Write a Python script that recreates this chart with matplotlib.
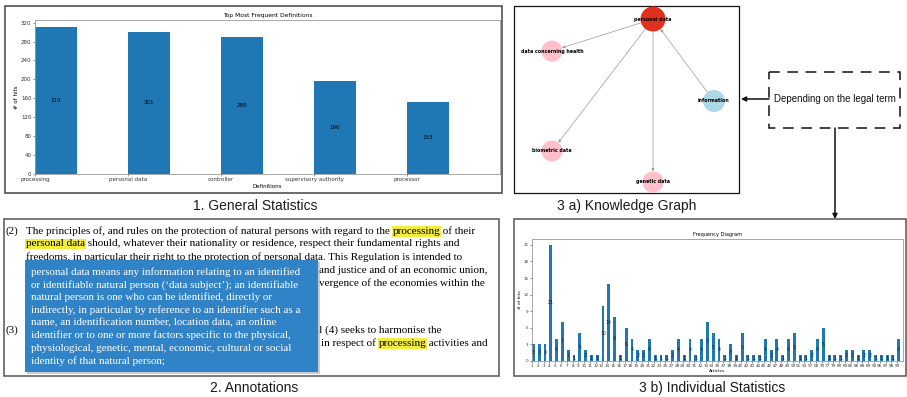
import matplotlib
matplotlib.use("Agg")
import matplotlib.pyplot as plt
from matplotlib.patches import Rectangle, Circle, FancyArrowPatch

W, H, DPI = 907, 397, 100

# ---- data -----------------------------------------------------------------
definitions = ["processing", "personal data", "controller",
               "supervisory authority", "processor"]
definition_hits = [310, 301, 289, 196, 153]

articles = ["1", "2", "3", "4", "5", "6", "7", "8", "9", "10", "11", "12",
            "13", "14", "15", "16", "17", "18", "19", "20", "21", "22", "23",
            "25", "27", "28", "29", "30", "31", "32", "33", "34", "35", "37",
            "38", "39", "40", "42", "43", "44", "45", "46", "47", "48", "49",
            "50", "51", "53", "57", "58", "70", "77", "79", "80", "83", "85",
            "86", "88", "89", "90", "96", "97", "98", "99"]
article_hits = [3, 3, 3, 21, 4, 7, 2, 1, 5, 2, 1, 1,
                10, 14, 8, 1, 6, 4, 2, 2, 4, 1, 1,
                1, 2, 4, 1, 4, 1, 4, 7, 5, 4, 1,
                3, 1, 5, 1, 1, 1, 4, 2, 4, 1, 4,
                5, 1, 1, 2, 4, 6, 1, 1, 1, 2, 2,
                1, 2, 2, 1, 1, 1, 1, 4]

graph_nodes = ["personal data", "data concerning health", "information",
               "biometric data", "genetic data"]
graph_colors = ["#e0301e", "pink", "lightblue", "pink", "pink"]
graph_edges = [("personal data", "data concerning health"),
               ("personal data", "biometric data"),
               ("personal data", "genetic data"),
               ("information", "personal data")]

# visible pieces of the recital text (the rest sits under the pop-up)
recital_lines = [
    ("(2)", 26, [("The principles of, and rules on the protection of natural persons with regard to the ", False),
                 ("processing", True), (" of their", False)]),
    (None, 26, [("personal data", True),
                (" should, whatever their nationality or residence, respect their fundamental rights and", False)]),
    (None, 26, [("freedoms, in particular their right to the protection of personal data. This Regulation is intended to", False)]),
    (None, 319, [("and justice and of an economic union,", False)]),
    (None, 319, [("vergence of the economies within the", False)]),
    ("(3)", 316, [("il (4) seeks to harmonise the", False)]),
    (None, 321, [("in respect of ", False), ("processing", True),
                 (" activities and", False)]),
]

popup_lines = [
    "personal data means any information relating to an identified",
    "or identifiable natural person (\u2018data subject\u2019); an identifiable",
    "natural person is one who can be identified, directly or",
    "indirectly, in particular by reference to an identifier such as a",
    "name, an identification number, location data, an online",
    "identifier or to one or more factors specific to the physical,",
    "physiological, genetic, mental, economic, cultural or social",
    "identity of that natural person;",
]

captions = ["1. General Statistics", "2. Annotations",
            "3 a) Knowledge Graph", "3 b) Individual Statistics"]
callout_text = "Depending on the legal term"

# ---- figure -----------------------------------------------------------------
fig = plt.figure(figsize=(W / DPI, H / DPI), dpi=DPI)
base = fig.add_axes([0, 0, 1, 1])
base.set_xlim(0, W)
base.set_ylim(H, 0)
base.axis("off")


def px_axes(x0, y0, x1, y1):
    return fig.add_axes([x0 / W, 1 - y1 / H, (x1 - x0) / W, (y1 - y0) / H])


def frame(x0, y0, x1, y1, color="#444444", lw=1.1, **kw):
    base.add_patch(Rectangle((x0, y0), x1 - x0, y1 - y0, fill=False,
                             edgecolor=color, linewidth=lw, **kw))


def style_bar_axes(ax, fs):
    for s in ax.spines.values():
        s.set_color("#9a9a9a")
        s.set_linewidth(0.6)
    ax.tick_params(length=1.5, width=0.4, pad=1, labelsize=fs, colors="#333333")


BAR = "#1f77b4"
SANS = "Liberation Sans"
SERIF = "Liberation Serif"

# ---- panel 1: general statistics --------------------------------------------
frame(5, 6, 502, 193)
ax1 = px_axes(35, 20, 500, 174)
pos = list(range(len(definitions)))
ax1.bar(pos, definition_hits, width=0.45, align="edge", color=BAR)
for p, v in zip(pos, definition_hits):
    ax1.text(p + 0.225, v / 2, str(v), ha="center", va="center", fontsize=4)
ax1.set_xlim(0, len(definitions))
ax1.set_ylim(0, max(definition_hits) * 1.05)
ax1.set_yticks(range(0, 321, 40))
ax1.set_xticks(pos)
ax1.set_xticklabels(definitions)
ax1.set_title("Top Most Frequent Definitions", fontsize=4.3, pad=2.5)
ax1.set_xlabel("Definitions", fontsize=4, labelpad=1)
ax1.set_ylabel("# of hits", fontsize=4, labelpad=1.5)
style_bar_axes(ax1, 4)

# ---- panel 3a: knowledge graph ----------------------------------------------
frame(514, 6, 739, 193, color="#111111", lw=0.9)
layout = {"personal data": (653, 19), "data concerning health": (552, 51),
          "information": (714, 101), "biometric data": (552, 151),
          "genetic data": (653, 182)}
radius = {"personal data": 12.5, "data concerning health": 10.5,
          "information": 11, "biometric data": 10.5, "genetic data": 10.5}
for a, b in graph_edges:
    base.add_patch(FancyArrowPatch(layout[a], layout[b], arrowstyle="-|>",
                                   mutation_scale=4, color="#9a9a9a", lw=0.5,
                                   shrinkA=radius[a] * 0.72,
                                   shrinkB=radius[b] * 0.72, zorder=2))
for name, col in zip(graph_nodes, graph_colors):
    base.add_patch(Circle(layout[name], radius[name], color=col, zorder=3,
                          lw=0))
    base.text(*layout[name], name, ha="center", va="center", fontsize=3.4,
              fontweight="bold", zorder=4)

# callout box and connectors
base.add_patch(Rectangle((769, 72), 131, 56, fill=False, edgecolor="#111111",
                         linewidth=1.1, linestyle=(0, (7, 5))))
base.text(835, 99, callout_text, ha="center", va="center", fontsize=7,
          family=SANS, color="#111111")
base.annotate("", xy=(741, 99), xytext=(769, 99),
              arrowprops=dict(arrowstyle="-|>", color="#111111", lw=1.1,
                              mutation_scale=7, shrinkA=0, shrinkB=0))
base.annotate("", xy=(835, 219), xytext=(835, 128),
              arrowprops=dict(arrowstyle="-|>", color="#111111", lw=1.1,
                              mutation_scale=7, shrinkA=0, shrinkB=0))

# ---- panel 2: annotations ---------------------------------------------------
frame(4, 219, 499, 376, color="#555555", lw=1.1)
TXT_FS = 8.0
line_y = [231, 244, 257, 270, 283, 330, 343]
for (num, x0, segs), y in zip(recital_lines, line_y):
    if num:
        base.text(5, y, num, fontsize=TXT_FS, family=SERIF, va="center")
    prev = None
    for s, hl in segs:
        box = (dict(boxstyle="square,pad=0.08", fc="#f2ec3a", ec="none")
               if hl else None)
        if prev is None:
            prev = base.text(x0, y, s, fontsize=TXT_FS, family=SERIF,
                             va="center", bbox=box)
        else:
            prev = base.annotate(s, xy=(1, 0), xycoords=prev, va="bottom",
                                 ha="left", fontsize=TXT_FS, family=SERIF,
                                 bbox=box)

# definition pop-up
base.add_patch(Rectangle((27, 262), 293, 112, color="#9a9a9a", alpha=0.5,
                         zorder=8, lw=0))
base.add_patch(Rectangle((25, 260), 293, 112, color="#3083c6", zorder=9, lw=0))
for i, s in enumerate(popup_lines):
    base.text(31, 272 + i * 12.7, s, color="white", fontsize=7.95,
              family=SERIF, va="center", zorder=10)

# ---- panel 3b: individual statistics ----------------------------------------
frame(514, 219, 906, 376, color="#555555", lw=1.1)
ax3 = px_axes(532, 239, 903, 361)
apos = list(range(len(articles)))
ax3.bar(apos, article_hits, width=0.5, align="edge", color=BAR)
for p, v in zip(apos, article_hits):
    ax3.text(p + 0.25, v / 2, str(v), ha="center", va="center", fontsize=3.3,
             color="#222222")
ax3.set_xlim(0, len(articles))
ax3.set_ylim(0, max(article_hits) * 1.05)
ax3.set_yticks(range(0, 22, 3))
ax3.set_xticks(apos)
ax3.set_xticklabels(articles)
ax3.set_title("Frequency Diagram", fontsize=3.6, pad=2)
ax3.set_xlabel("Articles", fontsize=3.2, labelpad=0.5)
ax3.set_ylabel("# of hits", fontsize=3.2, labelpad=1)
style_bar_axes(ax3, 3)

# ---- captions ---------------------------------------------------------------
for text, (cx, cy) in zip(captions, [(255, 206), (254, 388), (627, 206),
                                     (712, 388)]):
    base.text(cx, cy, text, ha="center", va="center", fontsize=10,
              family=SANS, color="#1a1a1a")

fig.savefig("out.png", dpi=DPI)
